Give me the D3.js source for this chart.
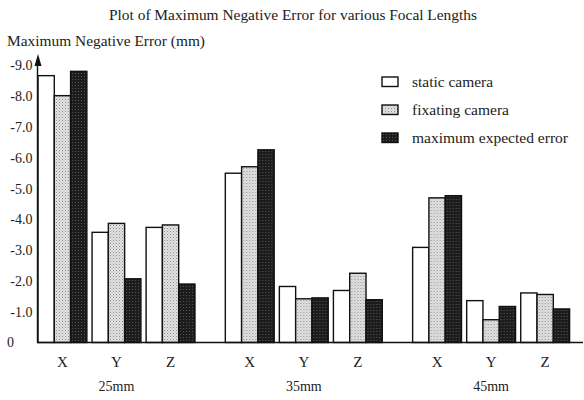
<!DOCTYPE html>
<html>
<head>
<meta charset="utf-8">
<script src="https://cdn.jsdelivr.net/npm/d3@7"></script>
<style>
  html, body { margin: 0; padding: 0; background: #fff; }
  svg { display: block; }
  text { font-family: "Liberation Serif", "DejaVu Serif", serif; fill: #222; }
</style>
</head>
<body>
<svg id="chart" width="584" height="400"></svg>
<script>
// ---- data ----
const focalLengths = ["25mm", "35mm", "45mm"];
const axisNames = ["X", "Y", "Z"];
const seriesNames = ["static camera", "fixating camera", "maximum expected error"];
// maximum negative error magnitudes (mm), order: 25mm X,Y,Z, 35mm X,Y,Z, 45mm X,Y,Z
const staticCamera   = [8.67, 3.58, 3.74, 5.50, 1.82, 1.69, 3.09, 1.36, 1.61];
const fixatingCamera = [8.02, 3.87, 3.82, 5.71, 1.42, 2.25, 4.70, 0.74, 1.56];
const maxExpected    = [8.81, 2.07, 1.90, 6.26, 1.45, 1.39, 4.77, 1.17, 1.09];
const yTickValues = [0, 1, 2, 3, 4, 5, 6, 7, 8, 9];
const yTickLabels = ["0", "-1.0", "-2.0", "-3.0", "-4.0", "-5.0", "-6.0", "-7.0", "-8.0", "-9.0"];
const titleText = "Plot of Maximum Negative Error for various Focal Lengths";
const yTitleText = "Maximum Negative Error (mm)";

const seriesValues = [staticCamera, fixatingCamera, maxExpected];
const rows = [];
focalLengths.forEach((f, fi) => axisNames.forEach((a, ai) => {
  const idx = fi * 3 + ai;
  rows.push({ focal: f, axis: a, values: seriesNames.map((s, si) => ({ series: s, value: seriesValues[si][idx] })) });
}));

const svg = d3.select("#chart");
const defs = svg.append("defs");

// stipple pattern for fixating camera
const p1 = defs.append("pattern").attr("id", "pFix").attr("patternUnits", "userSpaceOnUse")
  .attr("width", 3).attr("height", 3);
p1.append("rect").attr("width", 3).attr("height", 3).attr("fill", "#e4e4e4");
p1.append("rect").attr("x", 0).attr("y", 0).attr("width", 1).attr("height", 1).attr("fill", "#8a8a8a");
p1.append("rect").attr("x", 1.5).attr("y", 1.5).attr("width", 1).attr("height", 1).attr("fill", "#a8a8a8");

// dark crosshatch pattern for maximum expected error
const p2 = defs.append("pattern").attr("id", "pMax").attr("patternUnits", "userSpaceOnUse")
  .attr("width", 3).attr("height", 3);
p2.append("rect").attr("width", 3).attr("height", 3).attr("fill", "#1c1c1c");
p2.append("rect").attr("x", 1).attr("y", 1).attr("width", 1).attr("height", 1).attr("fill", "#555");

const fills = { "static camera": "#ffffff", "fixating camera": "url(#pFix)", "maximum expected error": "url(#pMax)" };

// ---- scales ----
const y = d3.scaleLinear().domain([0, 9]).range([342.5, 65.5]);
const x0 = d3.scaleBand().domain(focalLengths).range([38, 569.6]).paddingInner(0.162).paddingOuter(0);
const x1 = d3.scaleBand().domain(axisNames).range([0, x0.bandwidth()]).paddingInner(0.096).paddingOuter(0);
const x2 = d3.scaleBand().domain(seriesNames).range([0, x1.bandwidth()]).padding(0);

// ---- title ----
svg.append("text").attr("x", 109).attr("y", 20).attr("font-size", 15)
  .attr("textLength", 368).attr("lengthAdjust", "spacingAndGlyphs").text(titleText);
svg.append("text").attr("x", 7).attr("y", 45.5).attr("font-size", 15)
  .attr("textLength", 198).attr("lengthAdjust", "spacingAndGlyphs").text(yTitleText);

// ---- bars ----
const groups = svg.append("g").selectAll("g").data(rows).join("g")
  .attr("transform", d => `translate(${x0(d.focal) + x1(d.axis)},0)`);
groups.selectAll("rect").data(d => d.values).join("rect")
  .attr("x", d => x2(d.series))
  .attr("y", d => y(d.value))
  .attr("width", x2.bandwidth())
  .attr("height", d => y(0) - y(d.value))
  .attr("fill", d => fills[d.series])
  .attr("stroke", "#111")
  .attr("stroke-width", 1.4);

// ---- y axis ----
const yAxisG = svg.append("g").attr("transform", "translate(37.5,0)")
  .call(d3.axisLeft(y).tickValues(yTickValues).tickSize(0).tickPadding(5)
    .tickFormat((d, i) => yTickLabels[i]));
yAxisG.select(".domain").remove();
yAxisG.selectAll("text").attr("font-family", "Liberation Serif").attr("font-size", 14).attr("fill", "#222");
yAxisG.selectAll(".tick").filter(d => d === 0).select("text")
  .attr("text-anchor", "start").attr("x", -30.5);

svg.append("line").attr("x1", 37.5).attr("x2", 37.5).attr("y1", y(0)).attr("y2", 60)
  .attr("stroke", "#111").attr("stroke-width", 1.4);
svg.append("path").attr("d", "M38,54 L34.5,66 L41.5,66 Z").attr("fill", "#111");

// ---- x axis ----
svg.append("line").attr("x1", 37).attr("x2", 583).attr("y1", y(0)).attr("y2", y(0))
  .attr("stroke", "#111").attr("stroke-width", 1.4);

focalLengths.forEach(f => {
  const g = svg.append("g").attr("transform", `translate(${x0(f)},${y(0)})`)
    .call(d3.axisBottom(x1).tickSize(0).tickPadding(14));
  g.select(".domain").remove();
  g.selectAll("text").attr("font-family", "Liberation Serif").attr("font-size", 15).attr("fill", "#222");
});
const fg = svg.append("g").attr("transform", `translate(0,${y(0)})`)
  .call(d3.axisBottom(x0).tickSize(0).tickPadding(39));
fg.select(".domain").remove();
fg.selectAll("text").attr("font-family", "Liberation Serif").attr("font-size", 14).attr("fill", "#222");

// ---- legend ----
const legendLens = [81, 97, 156];
const legend = svg.append("g").selectAll("g").data(seriesNames).join("g")
  .attr("transform", (d, i) => `translate(382,${77 + i * 28})`);
legend.append("rect").attr("width", 16).attr("height", 9.5)
  .attr("fill", d => fills[d]).attr("stroke", "#111").attr("stroke-width", 1.4);
legend.append("text").attr("x", 30).attr("y", 9.5).attr("font-size", 14)
  .attr("textLength", (d, i) => legendLens[i]).attr("lengthAdjust", "spacingAndGlyphs")
  .text(d => d);
</script>
</body>
</html>
